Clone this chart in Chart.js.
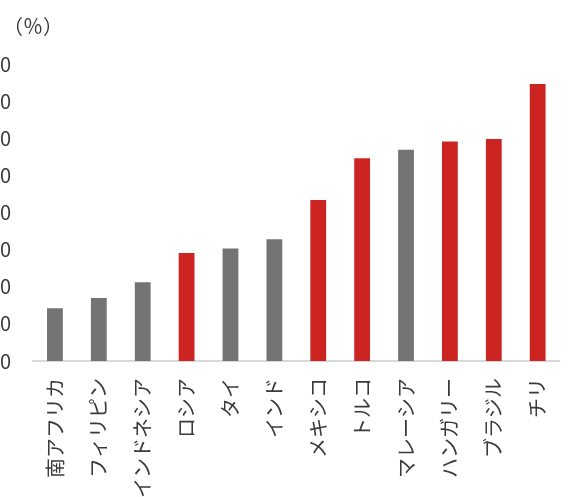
<!DOCTYPE html>
<html lang="ja">
<head>
<meta charset="utf-8">
<title>国別比較</title>
<script src="https://cdn.jsdelivr.net/npm/chart.js@4.4.1/dist/chart.umd.min.js"></script>
<style>
  html, body { margin: 0; padding: 0; background: #fff; }
  body { width: 569px; height: 497px; overflow: hidden; position: relative; }
  #wrap { position: absolute; left: -31px; top: 0; width: 610px; height: 497px; }
</style>
</head>
<body>
<div id="wrap"><canvas id="chart"></canvas></div>
<script>
const countries = [
  "南アフリカ", "フィリピン", "インドネシア", "ロシア", "タイ", "インド",
  "メキシコ", "トルコ", "マレーシア", "ハンガリー", "ブラジル", "チリ"
];
const values = [14.2, 17.0, 21.2, 29.1, 30.3, 32.8, 43.4, 54.6, 56.9, 59.1, 59.8, 74.6];
const highlightCountries = ["ロシア", "メキシコ", "トルコ", "ハンガリー", "ブラジル", "チリ"];
const yTicks = [0, 10, 20, 30, 40, 50, 60, 70, 80];
const unitLabel = "（％）";

const RED  = "#cb2421";
const GRAY = "#747474";
const TEXT = "#3a3a3a";
const FONT = "'Noto Sans CJK JP', 'Noto Sans', sans-serif";

Chart.defaults.font.family = FONT;
Chart.defaults.font.size = 20;
Chart.defaults.color = TEXT;

// unit caption above the value axis
const unitPlugin = {
  id: "unitLabel",
  afterDraw(chart){
    const { ctx } = chart;
    ctx.save();
    ctx.font = "20px " + FONT;
    ctx.fillStyle = TEXT;
    ctx.textAlign = "left";
    ctx.textBaseline = "middle";
    ctx.fillText(unitLabel, 34, 26);
    ctx.restore();
  }
};

new Chart(document.getElementById("chart"), {
  type: "bar",
  data: {
    labels: countries,
    datasets: [{
      data: values,
      backgroundColor: countries.map((c) => highlightCountries.includes(c) ? RED : GRAY),
      borderWidth: 0,
      categoryPercentage: 1,
      barPercentage: 0.36
    }]
  },
  options: {
    responsive: true,
    maintainAspectRatio: false,
    animation: false,
    layout: { padding: { top: 64, right: 8, left: 0, bottom: 0 } },
    plugins: {
      legend: { display: false },
      tooltip: { enabled: false }
    },
    scales: {
      x: {
        grid: { display: false, drawTicks: false },
        border: { display: true, color: "#d9d9d9", width: 2 },
        ticks: {
          autoSkip: false,
          minRotation: 90,
          maxRotation: 90,
          padding: 17,
          color: TEXT
        },
        afterFit: (scale) => { scale.height = 136; }
      },
      y: {
        min: yTicks[0],
        max: yTicks[yTicks.length - 1],
        grid: { display: false, drawTicks: false },
        border: { display: false },
        afterBuildTicks: (scale) => { scale.ticks = yTicks.map((v) => ({ value: v })); },
        ticks: { padding: 22, color: TEXT },
        afterFit: (scale) => { scale.width = 64; }
      }
    }
  },
  plugins: [unitPlugin]
});
</script>
</body>
</html>
